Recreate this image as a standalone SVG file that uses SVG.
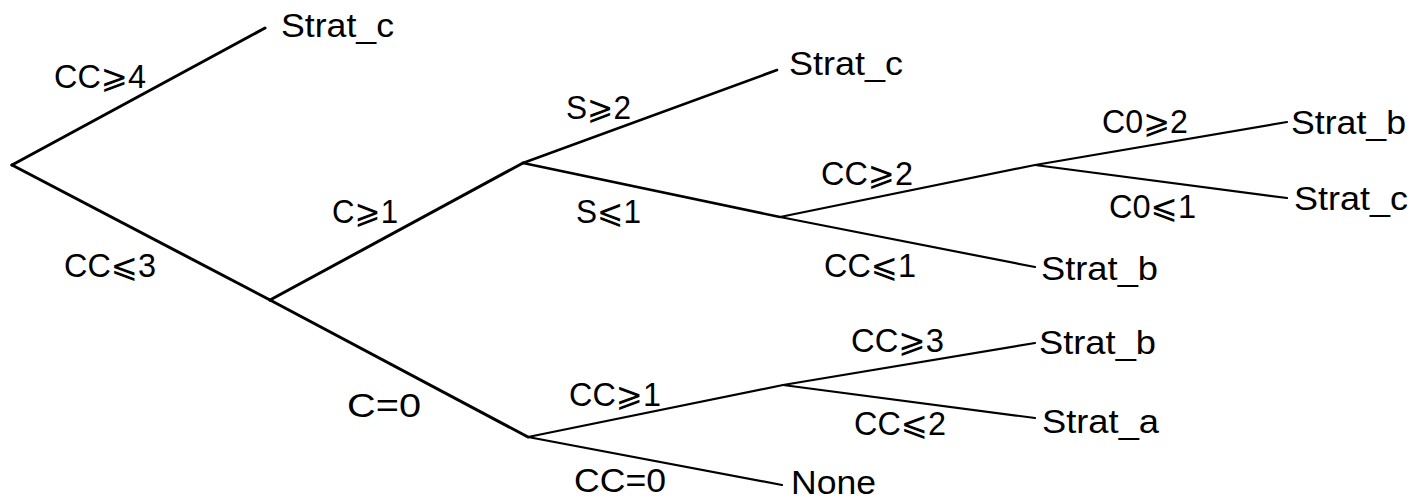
<svg xmlns="http://www.w3.org/2000/svg" width="1419" height="501" viewBox="0 0 1419 501">
<style>
text{font-family:"Liberation Sans","DejaVu Sans",sans-serif;font-size:33px;fill:#000}
.e1{stroke:#000;stroke-width:3;fill:none;stroke-linecap:round}
.e2{stroke:#000;stroke-width:2.6;fill:none;stroke-linecap:round}
.e3{stroke:#000;stroke-width:2.2;fill:none;stroke-linecap:round}
</style>
<rect width="1419" height="501" fill="#fff"/>
<g id="connectors">
<line class="e1" x1="12" y1="165" x2="265" y2="28"/>
<line class="e1" x1="12" y1="165" x2="270" y2="300"/>
<line class="e1" x1="270" y1="300" x2="523" y2="163"/>
<line class="e1" x1="270" y1="300" x2="528" y2="437"/>
<line class="e2" x1="523" y1="163" x2="777" y2="70"/>
<line class="e2" x1="523" y1="163" x2="780" y2="217"/>
<line class="e3" x1="780" y1="217" x2="1035" y2="165"/>
<line class="e3" x1="780" y1="217" x2="1035" y2="267"/>
<line class="e3" x1="1035" y1="165" x2="1287" y2="122"/>
<line class="e3" x1="1035" y1="165" x2="1287" y2="198"/>
<line class="e3" x1="528" y1="437" x2="783" y2="385"/>
<line class="e3" x1="528" y1="437" x2="782" y2="485"/>
<line class="e3" x1="783" y1="385" x2="1035" y2="343"/>
<line class="e3" x1="783" y1="385" x2="1035" y2="418"/>
</g>
<g id="edge-labels">
<text x="54" y="88" textLength="92" lengthAdjust="spacingAndGlyphs">CC⩾4</text>
<text x="64" y="277" textLength="92" lengthAdjust="spacingAndGlyphs">CC⩽3</text>
<text x="332" y="223" textLength="66" lengthAdjust="spacingAndGlyphs">C⩾1</text>
<text x="347" y="417" textLength="74" lengthAdjust="spacingAndGlyphs">C=0</text>
<text x="566" y="119" textLength="65" lengthAdjust="spacingAndGlyphs">S⩾2</text>
<text x="576" y="223" textLength="65" lengthAdjust="spacingAndGlyphs">S⩽1</text>
<text x="821" y="185" textLength="92" lengthAdjust="spacingAndGlyphs">CC⩾2</text>
<text x="824" y="277" textLength="92" lengthAdjust="spacingAndGlyphs">CC⩽1</text>
<text x="1102" y="133" textLength="86" lengthAdjust="spacingAndGlyphs">C0⩾2</text>
<text x="1109" y="218" textLength="87" lengthAdjust="spacingAndGlyphs">C0⩽1</text>
<text x="569" y="406" textLength="92" lengthAdjust="spacingAndGlyphs">CC⩾1</text>
<text x="574" y="492" textLength="92" lengthAdjust="spacingAndGlyphs">CC=0</text>
<text x="851" y="352" textLength="93" lengthAdjust="spacingAndGlyphs">CC⩾3</text>
<text x="854" y="435" textLength="92" lengthAdjust="spacingAndGlyphs">CC⩽2</text>
</g>
<g id="leaf-strat_c-1"><text x="281" y="37" textLength="113" lengthAdjust="spacingAndGlyphs">Strat_c</text></g>
<g id="leaf-strat_c-2"><text x="789" y="75" textLength="114" lengthAdjust="spacingAndGlyphs">Strat_c</text></g>
<g id="leaf-strat_b-1"><text x="1291" y="134" textLength="115" lengthAdjust="spacingAndGlyphs">Strat_b</text></g>
<g id="leaf-strat_c-3"><text x="1294" y="210" textLength="114" lengthAdjust="spacingAndGlyphs">Strat_c</text></g>
<g id="leaf-strat_b-2"><text x="1041" y="280" textLength="117" lengthAdjust="spacingAndGlyphs">Strat_b</text></g>
<g id="leaf-strat_b-3"><text x="1039" y="354" textLength="117" lengthAdjust="spacingAndGlyphs">Strat_b</text></g>
<g id="leaf-strat_a"><text x="1042" y="433" textLength="117" lengthAdjust="spacingAndGlyphs">Strat_a</text></g>
<g id="leaf-none"><text x="791" y="494" textLength="85" lengthAdjust="spacingAndGlyphs">None</text></g>
</svg>
